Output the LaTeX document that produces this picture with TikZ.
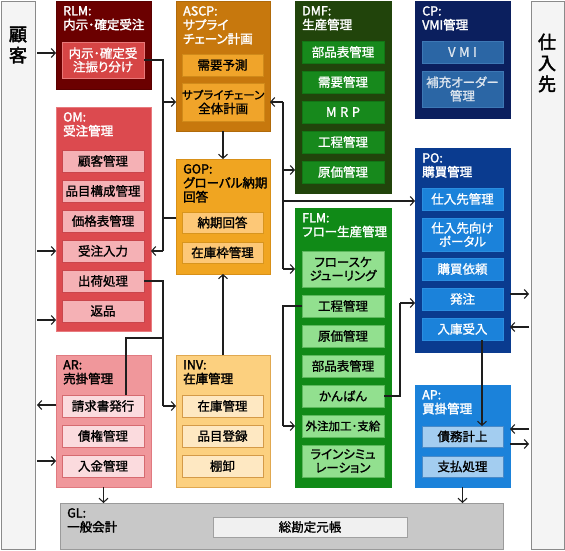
\documentclass[tikz,border=0pt]{standalone}
\usepackage{fontspec}
\setmainfont{Noto Sans CJK JP}[RawFeature={+palt},FakeBold=1.2]
\newfontfamily\ttfont{Noto Sans CJK JP}[RawFeature={+palt},FakeBold=2]
\newfontfamily\bdfont{Noto Sans CJK JP}[FakeBold=2.5]
\usetikzlibrary{arrows.meta}
\definecolor{panF}{HTML}{F4F4F4}\definecolor{panD}{HTML}{8A8A8A}
\definecolor{rlmO}{HTML}{6B0000}\definecolor{rlmOd}{HTML}{5A0000}\definecolor{rlmI}{HTML}{D64545}\definecolor{rlmId}{HTML}{E87878}
\definecolor{ascpO}{HTML}{C7780D}\definecolor{ascpOd}{HTML}{B06A0A}\definecolor{ascpI}{HTML}{F0A42A}\definecolor{ascpId}{HTML}{D08A1A}
\definecolor{omO}{HTML}{DC4A4F}\definecolor{omOd}{HTML}{E87A7E}\definecolor{omI}{HTML}{F5B1B5}\definecolor{omId}{HTML}{C9464C}
\definecolor{gopO}{HTML}{F0A521}\definecolor{gopOd}{HTML}{D89018}\definecolor{gopI}{HTML}{FDC877}\definecolor{gopId}{HTML}{D8951E}
\definecolor{dmfO}{HTML}{21440B}\definecolor{dmfI}{HTML}{17891C}\definecolor{dmfId}{HTML}{127515}
\definecolor{cpO}{HTML}{0B1F5E}\definecolor{cpI}{HTML}{2B66A5}\definecolor{cpId}{HTML}{3D78B5}\definecolor{cpT}{HTML}{DDE5EE}
\definecolor{poO}{HTML}{0A3B8F}\definecolor{poI}{HTML}{1B82DA}\definecolor{poId}{HTML}{2A8EE0}
\definecolor{flmO}{HTML}{108A17}\definecolor{flmI}{HTML}{92E08F}\definecolor{flmId}{HTML}{5DB85D}
\definecolor{arO}{HTML}{F0979B}\definecolor{arOd}{HTML}{E07A80}\definecolor{arI}{HTML}{FBDBDE}\definecolor{arId}{HTML}{D66A70}
\definecolor{invO}{HTML}{FCD07F}\definecolor{invOd}{HTML}{E0A850}\definecolor{invI}{HTML}{FEE8C2}\definecolor{invId}{HTML}{D49A48}
\definecolor{apO}{HTML}{1B82DA}\definecolor{apI}{HTML}{A3CDF0}\definecolor{apId}{HTML}{4A8AC8}
\definecolor{glO}{HTML}{C8C8C8}\definecolor{glOd}{HTML}{9A9A9A}\definecolor{glI}{HTML}{F0F0F0}\definecolor{glId}{HTML}{A0A0A0}
\definecolor{linec}{HTML}{1E1E1E}
\tikzset{
 ob/.style={anchor=north west, inner sep=0pt, outer sep=0pt, line width=0.8pt},
 ib/.style={anchor=north west, inner sep=0pt, outer sep=0pt, line width=0.8pt, align=center, font=\fontsize{12.5}{13.5}\selectfont},
 ttl/.style={anchor=north west, inner sep=0pt, align=left, font=\ttfont\fontsize{12.5}{14}\selectfont},
 arr/.style={-{Straight Barb[length=4pt,width=9pt]}, line width=1.1pt, draw=linec},
 ln/.style={line width=1.1pt, draw=linec},
}
\newcommand\OB[6]{\node[ob,#6,minimum width=#4pt,minimum height=#5pt] (#1) at (#2,#3) {};}
\newcommand\IB[7]{\node[ib,#6,minimum width=#4pt,minimum height=#5pt] (#1) at (#2,#3) {#7};}
\begin{document}
\begin{tikzpicture}[x=1pt,y=-1pt]
\useasboundingbox (0,0) rectangle (565,551);
% side panels
\OB{cust}{1}{1}{34}{548}{fill=panF,draw=panD}
\OB{supp}{531}{1}{33}{548}{fill=panF,draw=panD}
\node[align=center,inner sep=0pt,font=\bdfont\fontsize{18}{21}\selectfont] (custT) at (18,45) {顧\\客};
\node[align=center,inner sep=0pt,font=\bdfont\fontsize{18}{21}\selectfont] (suppT) at (547,63) {仕\\入\\先};
% outer boxes
\OB{rlm}{56}{1}{95}{88}{fill=rlmO,draw=rlmOd}
\OB{ascp}{176}{1}{94}{130}{fill=ascpO,draw=ascpOd}
\OB{dmf}{295}{1}{96}{192}{fill=dmfO,draw=dmfO}
\OB{cp}{415}{1}{95}{117}{fill=cpO,draw=cpO}
\OB{om}{56}{107}{95}{224}{fill=omO,draw=omOd}
\OB{gop}{176}{159}{94}{115}{fill=gopO,draw=gopOd}
\OB{po}{415}{148}{95}{204}{fill=poO,draw=poO}
\OB{flm}{295}{208}{96}{279}{fill=flmO,draw=flmO}
\OB{ar}{56}{355}{95}{132}{fill=arO,draw=arOd}
\OB{inv}{176}{355}{94}{132}{fill=invO,draw=invOd}
\OB{ap}{415}{385}{95}{102}{fill=apO,draw=apO}
\OB{gl}{60}{503}{443}{46}{fill=glO,draw=glOd}
% titles
\node[ttl,text=white] (rlmT) at ([xshift=7pt,yshift=-5pt]rlm.north west) {RLM:\\内示･確定受注};
\node[ttl,text=white] (ascpT) at ([xshift=7pt,yshift=-5pt]ascp.north west) {ASCP:\\サプライ\\チェーン計画};
\node[ttl,text=white] (dmfT) at ([xshift=7pt,yshift=-5pt]dmf.north west) {DMF:\\生産管理};
\node[ttl,text=white] (cpT) at ([xshift=7pt,yshift=-5pt]cp.north west) {CP:\\VMI管理};
\node[ttl,text=white] (omT) at ([xshift=7pt,yshift=-5pt]om.north west) {OM:\\受注管理};
\node[ttl,text=black] (gopT) at ([xshift=7pt,yshift=-5pt]gop.north west) {GOP:\\グローバル納期\\回答};
\node[ttl,text=white] (poT) at ([xshift=7pt,yshift=-5pt]po.north west) {PO:\\購買管理};
\node[ttl,text=white] (flmT) at ([xshift=7pt,yshift=-5pt]flm.north west) {FLM:\\フロー生産管理};
\node[ttl,text=black] (arT) at ([xshift=7pt,yshift=-5pt]ar.north west) {AR:\\売掛管理};
\node[ttl,text=black] (invT) at ([xshift=7pt,yshift=-5pt]inv.north west) {INV:\\在庫管理};
\node[ttl,text=white] (apT) at ([xshift=7pt,yshift=-5pt]ap.north west) {AP:\\買掛管理};
\node[ttl,text=black] (glT) at ([xshift=7pt,yshift=-5pt]gl.north west) {GL:\\一般会計};
% inner boxes
\IB{rlm1}{62}{42}{82}{36}{fill=rlmI,draw=rlmId,text=white}{内示･確定受\\注振り分け}
\IB{ascp1}{182}{54}{81}{22}{fill=ascpI,draw=ascpId}{需要予測}
\IB{ascp2}{182}{83}{81}{38}{fill=ascpI,draw=ascpId,font=\fontsize{11.5}{14}\selectfont}{サプライチェーン\\\fontsize{12.5}{14}\selectfont 全体計画}
\IB{om1}{62}{150}{82}{22}{fill=omI,draw=omId}{顧客管理}
\IB{om2}{62}{180}{82}{22}{fill=omI,draw=omId}{品目構成管理}
\IB{om3}{62}{210}{82}{22}{fill=omI,draw=omId}{価格表管理}
\IB{om4}{62}{240}{82}{22}{fill=omI,draw=omId}{受注入力}
\IB{om5}{62}{270}{82}{22}{fill=omI,draw=omId}{出荷処理}
\IB{om6}{62}{300}{82}{22}{fill=omI,draw=omId}{返品}
\IB{gop1}{182}{212}{81}{21}{fill=gopI,draw=gopId}{納期回答}
\IB{gop2}{182}{242}{81}{21}{fill=gopI,draw=gopId}{在庫枠管理}
\IB{dmf1}{302}{41}{82}{22}{fill=dmfI,draw=dmfId,text=white}{部品表管理}
\IB{dmf2}{302}{71}{82}{22}{fill=dmfI,draw=dmfId,text=white}{需要管理}
\IB{dmf3}{302}{101}{82}{22}{fill=dmfI,draw=dmfId,text=white,font=\fontsize{13}{14}\selectfont}{M\hspace{3.5pt}R\hspace{3.5pt}P}
\IB{dmf4}{302}{131}{82}{22}{fill=dmfI,draw=dmfId,text=white}{工程管理}
\IB{dmf5}{302}{161}{82}{22}{fill=dmfI,draw=dmfId,text=white}{原価管理}
\IB{cp1}{422}{41}{81}{22}{fill=cpI,draw=cpId,text=cpT,font=\fontsize{13}{14}\selectfont}{V\hspace{3.5pt}M\hspace{3.5pt}I}
\IB{cp2}{422}{71}{81}{36}{fill=cpI,draw=cpId,text=cpT}{補充オーダー\\管理}
\IB{po1}{422}{188}{81}{22}{fill=poI,draw=poId,text=white}{仕入先管理}
\IB{po2}{422}{218}{81}{33}{fill=poI,draw=poId,text=white}{仕入先向け\\ポータル}
\IB{po3}{422}{258}{81}{22}{fill=poI,draw=poId,text=white}{購買依頼}
\IB{po4}{422}{288}{81}{22}{fill=poI,draw=poId,text=white}{発注}
\IB{po5}{422}{318}{81}{22}{fill=poI,draw=poId,text=white}{入庫受入}
\IB{flm1}{302}{251}{82}{36}{fill=flmI,draw=flmId}{フロースケ\\ジューリング}
\IB{flm2}{302}{295}{82}{22}{fill=flmI,draw=flmId}{工程管理}
\IB{flm3}{302}{325}{82}{22}{fill=flmI,draw=flmId}{原価管理}
\IB{flm4}{302}{355}{82}{22}{fill=flmI,draw=flmId}{部品表管理}
\IB{flm5}{302}{385}{82}{22}{fill=flmI,draw=flmId}{かんばん}
\IB{flm6}{302}{415}{82}{22}{fill=flmI,draw=flmId,font=\fontsize{11.5}{13}\selectfont}{外注加工･支給}
\IB{flm7}{302}{445}{82}{32}{fill=flmI,draw=flmId}{ラインシミュ\\レーション}
\IB{ar1}{62}{395}{82}{22}{fill=arI,draw=arId}{請求書発行}
\IB{ar2}{62}{425}{82}{22}{fill=arI,draw=arId}{債権管理}
\IB{ar3}{62}{455}{82}{22}{fill=arI,draw=arId}{入金管理}
\IB{inv1}{182}{395}{81}{22}{fill=invI,draw=invId}{在庫管理}
\IB{inv2}{182}{425}{81}{22}{fill=invI,draw=invId}{品目登録}
\IB{inv3}{182}{455}{81}{22}{fill=invI,draw=invId}{棚卸}
\IB{ap1}{422}{426}{81}{21}{fill=apI,draw=apId}{債務計上}
\IB{ap2}{422}{456}{81}{21}{fill=apI,draw=apId}{支払処理}
\IB{gl1}{213}{517}{194}{20}{fill=glI,draw=glId}{総勘定元帳}
% helper coordinates
\coordinate (busL) at (163,0);
\coordinate (busR) at (283,0);
\coordinate (kb) at (400,0);
\coordinate (kx) at (482,0);
\coordinate (arx) at (126,0);
% connectors with customers
\draw[arr,shorten <=2pt] (cust.east |- 0,53) -- (rlm.west |- 0,53);
\draw[arr,shorten <=2pt] (cust.east |- om4) -- (om.west |- om4);
\draw[arr,shorten <=2pt] (cust.east |- 0,320) -- (om.west |- 0,320);
\draw[arr,shorten >=2pt] (ar.west |- 0,405) -- (cust.east |- 0,405);
\draw[arr,shorten <=2pt] (cust.east |- 0,461) -- (ar.west |- 0,461);
% RLM bus
\draw[ln] (rlm1.east) -- (busL |- rlm1) -- (busL |- om4);
\draw[arr] (busL |- om4) -- (om.east |- om4);
\draw[arr] (busL |- ascp2) -- (ascp.west |- ascp2);
\draw[ln] (gop.west |- 0,218) -- (busL |- 0,218);
% ASCP / GOP / INV
\draw[arr] (ascp.south) -- (gop.north);
\draw[arr] (inv.north) -- (gop.south);
% right bus
\draw[arr] (busR |- ascp2) -- (ascp.east |- ascp2);
\draw[ln] (busR |- ascp2) -- (busR |- flm1);
\draw[arr] (busR |- 0,170) -- (dmf.west |- 0,170);
\draw[arr] (busR |- 0,201) -- (po.west |- 0,201);
\draw[arr] (busR |- flm1) -- (flm.west |- flm1);
% shipping -> inventory
\draw[ln] (om5.east) -- (busL |- om5) -- (busL |- inv1);
\draw[arr] (busL |- inv1) -- (inv.west |- inv1);
\draw[ln] (ar1.north -| arx) -- (arx |- 0,338) -- (busL |- 0,338);
% FLM internal
\draw[ln] (flm2.west) -- (busR |- flm2) -- (busR |- flm6);
\draw[arr] (busR |- flm6) -- (flm.west |- flm6);
% kanban -> PO
\draw[ln] (flm5.east) -- (kb |- flm5) -- (kb |- 0,303);
\draw[arr] (kb |- 0,303) -- (po.west |- 0,303);
% PO -> AP
\draw[arr] (po5.south -| kx) -- (ap1.north -| kx);
% suppliers
\draw[arr,shorten >=2pt] (po.east |- 0,294) -- (supp.west |- 0,294);
\draw[arr,shorten <=2pt] (supp.west |- 0,327) -- (po.east |- 0,327);
\draw[arr,shorten <=2pt] (supp.west |- 0,429) -- (ap.east |- 0,429);
\draw[arr,shorten >=2pt] (ap.east |- 0,444) -- (supp.west |- 0,444);
% to GL
\draw[arr] (ap.south) -- (ap.south |- gl.north);
\draw[arr] (ar.south) -- (ar.south |- gl.north);
\end{tikzpicture}
\end{document}
